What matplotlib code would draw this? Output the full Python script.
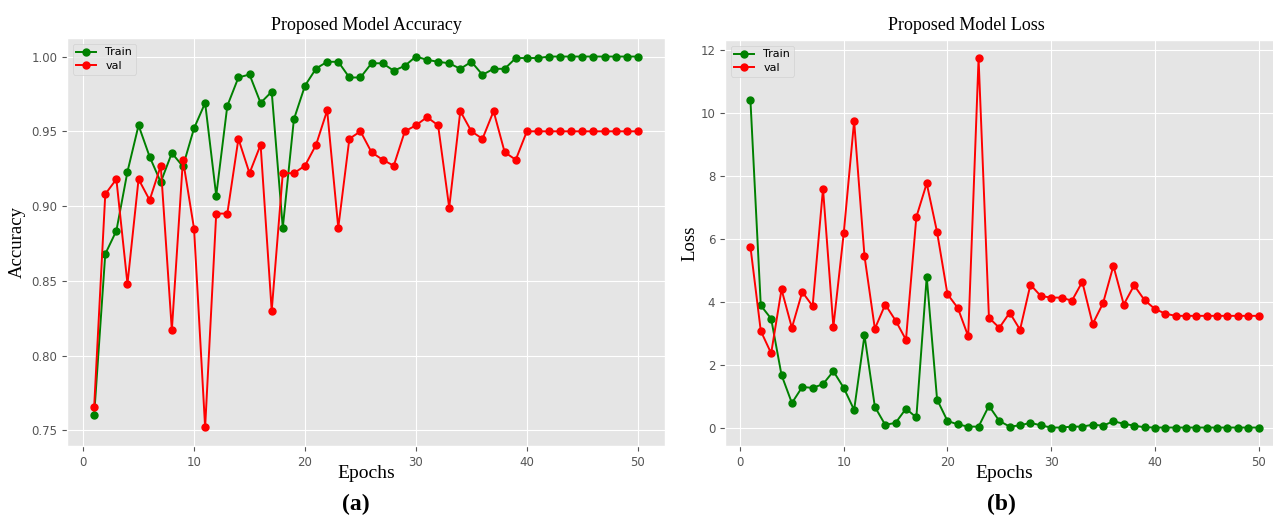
import numpy as np
import matplotlib
matplotlib.use('Agg')
from matplotlib import pyplot as plt

# training history, 50 epochs
epochs = np.arange(1, 51)

train_acc = [0.7605, 0.868, 0.8835, 0.923, 0.954, 0.933, 0.916, 0.9355, 0.9265, 0.952,
             0.969, 0.907, 0.967, 0.986, 0.988, 0.969, 0.9765, 0.8855, 0.958, 0.9805,
             0.992, 0.9965, 0.9965, 0.986, 0.986, 0.9955, 0.9955, 0.9905, 0.9938, 1.0,
             0.9978, 0.9965, 0.9955, 0.9918, 0.9965, 0.9878, 0.9918, 0.9918, 0.999, 0.999,
             0.999, 1.0, 1.0, 1.0, 1.0, 1.0, 1.0, 1.0, 1.0, 1.0]
val_acc = [0.766, 0.908, 0.918, 0.848, 0.918, 0.904, 0.927, 0.817, 0.931, 0.885,
           0.752, 0.895, 0.895, 0.945, 0.922, 0.941, 0.830, 0.922, 0.922, 0.927,
           0.941, 0.964, 0.8855, 0.945, 0.950, 0.936, 0.931, 0.927, 0.950, 0.954,
           0.9595, 0.954, 0.899, 0.9635, 0.950, 0.945, 0.9635, 0.936, 0.931, 0.950,
           0.950, 0.950, 0.950, 0.950, 0.950, 0.950, 0.950, 0.950, 0.950, 0.950]

train_loss = [10.42, 3.88, 3.46, 1.67, 0.78, 1.29, 1.26, 1.38, 1.79, 1.26,
              0.56, 2.93, 0.66, 0.085, 0.15, 0.60, 0.32, 4.79, 0.89, 0.21,
              0.10, 0.03, 0.03, 0.69, 0.21, 0.03, 0.07, 0.15, 0.07, 0.0,
              0.0, 0.03, 0.03, 0.09, 0.06, 0.2, 0.12, 0.06, 0.01, 0.0,
              0.0, 0.0, 0.0, 0.0, 0.0, 0.0, 0.0, 0.0, 0.0, 0.0]
val_loss = [5.75, 3.07, 2.36, 4.39, 3.17, 4.31, 3.86, 7.59, 3.20, 6.18,
            9.74, 5.45, 3.14, 3.91, 3.40, 2.79, 6.69, 7.76, 6.21, 4.24,
            3.80, 2.90, 11.73, 3.49, 3.17, 3.65, 3.11, 4.54, 4.18, 4.13,
            4.13, 4.03, 4.63, 3.29, 3.95, 5.14, 3.91, 4.52, 4.05, 3.77,
            3.62, 3.55, 3.55, 3.55, 3.55, 3.55, 3.55, 3.55, 3.55, 3.55]

plt.style.use('ggplot')
plt.rcParams['xtick.labelsize'] = 8.5
plt.rcParams['ytick.labelsize'] = 8.5

serif = 'Liberation Serif'

fig = plt.figure(figsize=(12.73, 5.17), dpi=100)
ax1 = fig.add_axes([0.05263, 0.13733, 0.46976, 0.78917])
ax2 = fig.add_axes([0.56952, 0.13733, 0.43912, 0.78530])

def historyPlot(ax, train, val, ylabel, ypad):
    ax.plot(epochs, train, color='green', marker='o', markersize=5, linewidth=1.4, label='Train')
    ax.plot(epochs, val, color='red', marker='o', markersize=5, linewidth=1.4, label='val')
    ax.set_xticks([0, 10, 20, 30, 40, 50])
    ax.set_xlabel('Epochs', family=serif, fontsize=14, color='black', labelpad=-3)
    ax.set_ylabel(ylabel, family=serif, fontsize=13.5, color='black', labelpad=ypad)
    ax.legend(loc='upper left', fontsize=8, handlelength=1.8, borderpad=0.35, labelspacing=0.3)

historyPlot(ax1, train_acc, val_acc, 'Accuracy', 4)
ax1.set_yticks([0.75, 0.80, 0.85, 0.90, 0.95, 1.00])
ax1.set_title('Proposed Model Accuracy', family=serif, fontsize=13, color='black', pad=6)

historyPlot(ax2, train_loss, val_loss, 'Loss', 1)
ax2.set_yticks([0, 2, 4, 6, 8, 10, 12])
ax2.set_title('Proposed Model Loss', family=serif, fontsize=13, color='black', pad=7, x=0.431)

fig.patch.set_facecolor('white')
fig.text(0.2797, 0.013, '(a)', family=serif, fontsize=17, fontweight='bold', ha='center')
fig.text(0.7863, 0.013, '(b)', family=serif, fontsize=17, fontweight='bold', ha='center')

fig.savefig('out.png', dpi=100, facecolor='white')
